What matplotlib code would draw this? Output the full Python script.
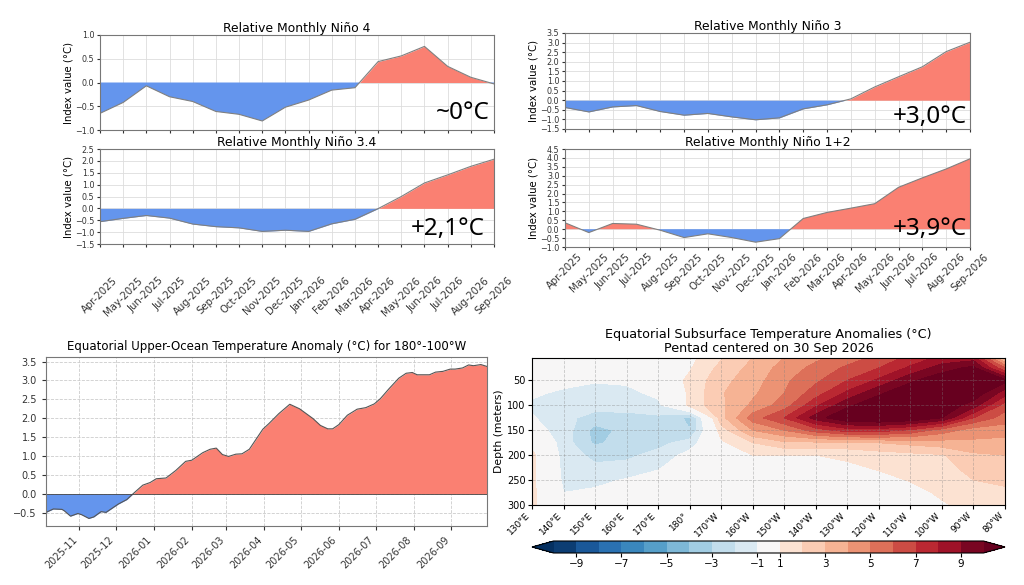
import matplotlib
matplotlib.use('Agg')
import matplotlib.dates as mdates
import matplotlib.pyplot as plt
import numpy as np
import pandas as pd

plt.rcParams['font.family'] = 'DejaVu Sans'

W, H = 1024, 585
BLUE = 'cornflowerblue'
RED = 'salmon'

# monthly relative Niño indices, Apr-2025 .. Sep-2026
months = ['Apr-2025', 'May-2025', 'Jun-2025', 'Jul-2025', 'Aug-2025', 'Sep-2025',
          'Oct-2025', 'Nov-2025', 'Dec-2025', 'Jan-2026', 'Feb-2026', 'Mar-2026',
          'Apr-2026', 'May-2026', 'Jun-2026', 'Jul-2026', 'Aug-2026', 'Sep-2026']
nino4 = [-0.65, -0.42, -0.07, -0.30, -0.40, -0.61, -0.67, -0.81, -0.52,
         -0.37, -0.16, -0.11, 0.44, 0.56, 0.76, 0.34, 0.11, -0.03]
nino34 = [-0.56, -0.42, -0.30, -0.41, -0.66, -0.77, -0.82, -0.97, -0.92,
          -0.97, -0.65, -0.46, -0.01, 0.50, 1.07, 1.41, 1.77, 2.07]
nino3 = [-0.38, -0.61, -0.35, -0.28, -0.59, -0.78, -0.69, -0.87, -1.02,
         -0.92, -0.45, -0.24, 0.07, 0.69, 1.22, 1.74, 2.53, 3.02]
nino12 = [0.36, -0.19, 0.32, 0.28, -0.06, -0.47, -0.26, -0.47, -0.73,
          -0.53, 0.60, 0.94, 1.18, 1.43, 2.35, 2.88, 3.38, 3.95]

# upper-ocean heat content anomaly 180-100W
uo_dates = ['2025-10-05', '2025-10-11', '2025-10-18', '2025-10-20', '2025-10-25',
            '2025-10-31', '2025-11-03', '2025-11-09', '2025-11-13', '2025-11-19',
            '2025-11-23', '2025-12-03', '2025-12-10', '2025-12-15', '2025-12-23',
            '2025-12-29', '2026-01-03', '2026-01-11', '2026-01-19', '2026-01-27',
            '2026-02-01', '2026-02-10', '2026-02-16', '2026-02-21', '2026-02-26',
            '2026-03-03', '2026-03-09', '2026-03-14', '2026-03-20', '2026-03-31',
            '2026-04-05', '2026-04-13', '2026-04-22', '2026-04-30', '2026-05-11',
            '2026-05-17', '2026-05-23', '2026-05-27', '2026-06-01', '2026-06-08',
            '2026-06-16', '2026-06-23', '2026-06-30', '2026-07-05', '2026-07-12',
            '2026-07-20', '2026-07-26', '2026-07-31', '2026-08-04', '2026-08-14',
            '2026-08-19', '2026-08-25', '2026-08-31', '2026-09-04', '2026-09-10',
            '2026-09-15', '2026-09-19', '2026-09-25', '2026-09-30']
uo_values = [-0.49, -0.40, -0.41, -0.45, -0.59, -0.52, -0.55, -0.65, -0.61, -0.47,
             -0.49, -0.27, -0.15, 0.00, 0.23, 0.30, 0.40, 0.42, 0.62, 0.86,
             0.89, 1.09, 1.18, 1.21, 1.04, 0.99, 1.05, 1.06, 1.18, 1.71,
             1.86, 2.12, 2.37, 2.25, 1.99, 1.81, 1.72, 1.72, 1.83, 2.08,
             2.24, 2.28, 2.38, 2.52, 2.78, 3.06, 3.19, 3.21, 3.15, 3.15,
             3.22, 3.24, 3.30, 3.30, 3.33, 3.41, 3.39, 3.42, 3.37]

# subsurface anomaly section (rows = depth, cols = longitude east 130..280)
sub_lons = [130, 140, 150, 160, 170, 180, 190, 200, 210, 220, 230, 240, 250, 260, 270, 280]
sub_depths = [5, 25, 50, 75, 100, 125, 150, 175, 200, 225, 250, 275, 300]
sub_anom = [
    [-0.3, -0.3, -0.4, -0.3, 0.2, 0.7, 1.9, 3.0, 4.0, 4.8, 5.5, 6.3, 7.3, 8.3, 8.5, 2.5],
    [-0.3, -0.4, -0.5, -0.4, 0.3, 0.9, 2.3, 3.3, 4.4, 5.3, 6.2, 7.0, 8.2, 9.5, 10.3, 6.0],
    [-0.5, -0.6, -0.9, -0.8, 0.2, 1.2, 2.7, 3.5, 4.8, 5.8, 7.0, 8.2, 9.8, 10.8, 11.0, 10.3],
    [-0.8, -1.2, -1.4, -1.3, -0.7, 1.2, 2.9, 3.8, 5.0, 6.5, 8.2, 9.8, 10.8, 11.0, 10.8, 8.5],
    [-1.2, -1.7, -1.6, -1.5, -1.3, 1.3, 2.8, 4.2, 5.5, 7.8, 9.8, 10.8, 11.0, 10.8, 9.5, 6.5],
    [-0.9, -1.7, -2.4, -2.4, -2.2, -3.2, 2.6, 5.5, 7.0, 9.5, 11.0, 11.3, 11.0, 10.0, 7.0, 5.5],
    [-0.6, -1.4, -3.4, -2.7, -2.4, -3.0, 1.5, 4.0, 5.0, 6.5, 7.5, 7.5, 6.8, 5.5, 4.5, 4.5],
    [0.6, -1.5, -3.2, -2.5, -2.3, -1.6, 0.8, 2.0, 2.8, 2.8, 2.8, 3.0, 3.3, 3.6, 3.8, 3.6],
    [1.3, -1.4, -2.3, -2.2, -1.7, -0.6, 0.3, 1.0, 1.0, 1.0, 1.2, 1.5, 1.7, 1.9, 2.8, 3.0],
    [1.3, -1.3, -1.8, -1.7, -1.1, -0.3, 0.0, 0.3, 0.5, 0.6, 0.8, 1.1, 1.5, 1.7, 2.3, 2.6],
    [1.3, -1.2, -1.3, -0.9, -0.6, -0.2, 0.0, 0.2, 0.3, 0.4, 0.5, 0.7, 1.05, 1.4, 2.0, 2.2],
    [1.3, -1.0, -0.8, -0.5, -0.3, -0.1, 0.0, 0.1, 0.2, 0.3, 0.4, 0.5, 0.7, 1.15, 1.6, 1.8],
    [1.3, -0.6, -0.6, -0.4, -0.2, -0.1, 0.0, 0.0, 0.1, 0.2, 0.3, 0.4, 0.6, 0.9, 1.3, 1.5],
]
lon_labels = ['130°E', '140°E', '150°E', '160°E', '170°E', '180°', '170°W', '160°W',
              '150°W', '140°W', '130°W', '120°W', '110°W', '100°W', '90°W', '80°W']
levels = [-10, -9, -8, -7, -6, -5, -4, -3, -2, -1, 1, 2, 3, 4, 5, 6, 7, 8, 9, 10]
cbar_ticks = [-9, -7, -5, -3, -1, 1, 3, 5, 7, 9]


def px(l, t, r, b):
    return [l / W, 1 - b / H, (r - l) / W, (b - t) / H]


def nino_panel(ax, vals, title, ylim, labels, pad):
    x = np.arange(len(vals))
    v = np.array(vals)
    ax.fill_between(x, v, 0, where=v >= 0, interpolate=True, color=RED, lw=0)
    ax.fill_between(x, v, 0, where=v <= 0, interpolate=True, color=BLUE, lw=0)
    ax.plot(x, v, color='gray', lw=0.8)
    ax.set_xlim(0, len(vals) - 1)
    ax.set_ylim(*ylim)
    ax.set_yticks(np.arange(ylim[0], ylim[1] + 0.01, 0.5))
    ax.set_xticks(x)
    if labels:
        ax.set_xticklabels(months, rotation=45, ha='center', fontsize=7.3)
    else:
        ax.set_xticklabels([])
    ax.tick_params(axis='x', length=2.5, pad=pad, colors='#333333')
    ax.tick_params(axis='y', labelsize=5.8, length=2.5, pad=1.5, colors='#333333')
    ax.grid(True, color='#dddddd', lw=0.6)
    ax.set_axisbelow(True)
    ax.set_title(title, fontsize=8.9, pad=2)
    ax.set_ylabel('Index value (°C)', fontsize=7.3, labelpad=1)
    for s in ax.spines.values():
        s.set_color('#777777')


fig = plt.figure(figsize=(W / 100, H / 100), dpi=100)

nino_panel(fig.add_axes(px(100, 35, 494, 130)), nino4, 'Relative Monthly Niño 4',
           (-1.0, 1.0), False, 2)
nino_panel(fig.add_axes(px(100, 149, 494, 244)), nino34, 'Relative Monthly Niño 3.4',
           (-1.5, 2.5), True, 20)
nino_panel(fig.add_axes(px(565, 33, 970, 129)), nino3, 'Relative Monthly Niño 3',
           (-1.5, 3.5), False, 2)
nino_panel(fig.add_axes(px(565, 149, 970, 247)), nino12, 'Relative Monthly Niño 1+2',
           (-1.0, 4.5), True, 1)

big = dict(fontsize=17.5, family='Noto Sans', ha='right', va='center')
fig.text(490 / W, 1 - 113 / H, '~0°C', **big)
fig.text(485 / W, 1 - 229 / H, '+2,1°C', **big)
fig.text(967 / W, 1 - 117 / H, '+3,0°C', **big)
fig.text(967 / W, 1 - 229 / H, '+3,9°C', **big)

# upper-ocean panel
ax = fig.add_axes(px(46, 357, 487, 526))
d = mdates.date2num(pd.to_datetime(uo_dates))
u = np.array(uo_values)
ax.fill_between(d, u, 0, where=u >= 0, interpolate=True, color=RED, lw=0)
ax.fill_between(d, u, 0, where=u <= 0, interpolate=True, color=BLUE, lw=0)
ax.plot(d, u, color='#555555', lw=0.8)
ax.axhline(0, color='#444444', lw=0.6)
ax.set_xlim(d[0], d[-1])
ax.set_ylim(-0.85, 3.62)
ax.set_yticks(np.arange(-0.5, 3.51, 0.5))
ax.xaxis.set_major_locator(mdates.MonthLocator())
ax.xaxis.set_major_formatter(mdates.DateFormatter('%Y-%m'))
plt.setp(ax.get_xticklabels(), rotation=45, ha='right')
ax.tick_params(labelsize=7, length=3, colors='#333333')
ax.grid(True, ls='--', color='#cccccc', lw=0.6)
ax.set_axisbelow(True)
ax.set_title('Equatorial Upper-Ocean Temperature Anomaly (°C) for 180°-100°W',
             fontsize=8.5, pad=5)
for s in ax.spines.values():
    s.set_color('#777777')

# subsurface section
ax = fig.add_axes(px(532, 358, 1005, 505))
cf = ax.contourf(sub_lons, sub_depths, np.array(sub_anom), levels=levels,
                 cmap='RdBu_r', extend='both')
ax.set_xlim(130, 280)
ax.set_ylim(300, 5)
ax.set_xticks(sub_lons)
ax.set_xticklabels(lon_labels, rotation=45, ha='right', fontsize=6.5)
ax.set_yticks([50, 100, 150, 200, 250, 300])
ax.tick_params(axis='y', labelsize=7, length=3, pad=1.5)
ax.tick_params(axis='x', length=3, pad=1)
ax.grid(True, ls='--', color='gray', alpha=0.4, lw=0.6)
ax.set_ylabel('Depth (meters)', fontsize=7.8, labelpad=2)
ax.set_title('Equatorial Subsurface Temperature Anomalies (°C)\nPentad centered on 30 Sep 2026',
             fontsize=9.2, pad=4, linespacing=1.1)

cax = fig.add_axes(px(532, 541, 1005, 553))
cb = fig.colorbar(cf, cax=cax, orientation='horizontal')
cb.set_ticks(cbar_ticks)
cb.ax.tick_params(labelsize=7.5, length=3, pad=1)

fig.savefig('out.png', dpi=100)
